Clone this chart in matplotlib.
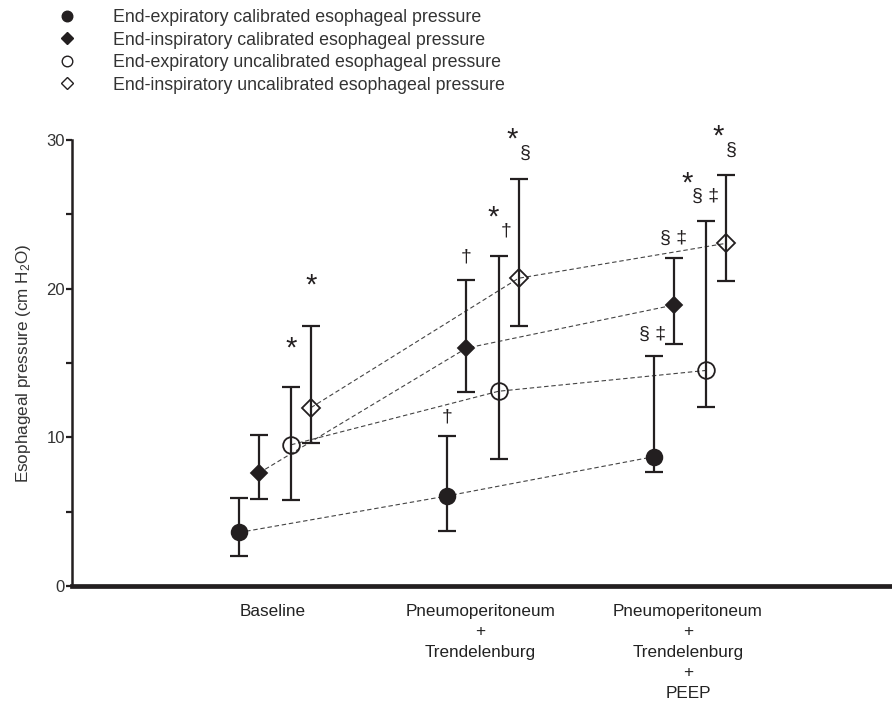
import matplotlib
matplotlib.use("Agg")
from matplotlib import pyplot as plt
from matplotlib.lines import Line2D
from matplotlib.ticker import MultipleLocator

plt.rcParams["font.family"] = ["Liberation Sans", "DejaVu Sans"]
plt.rcParams["mathtext.fontset"] = "custom"
plt.rcParams["mathtext.rm"] = "Liberation Sans"

INK = "#231f20"

conditions = [
    "Baseline",
    "Pneumoperitoneum\n+\nTrendelenburg",
    "Pneumoperitoneum\n+\nTrendelenburg\n+\nPEEP",
]

series_labels = [
    "End-expiratory calibrated esophageal pressure",
    "End-inspiratory calibrated esophageal pressure",
    "End-expiratory uncalibrated esophageal pressure",
    "End-inspiratory uncalibrated esophageal pressure",
]

# centre value, top of bar, bottom of bar (cm H2O), one entry per condition
exp_cal = [3.6, 6.05, 8.7]
exp_cal_hi = [5.9, 10.1, 15.5]
exp_cal_lo = [2.0, 3.7, 7.7]

insp_cal = [7.6, 16.0, 18.9]
insp_cal_hi = [10.15, 20.6, 22.05]
insp_cal_lo = [5.85, 13.05, 16.3]

exp_uncal = [9.5, 13.1, 14.5]
exp_uncal_hi = [13.4, 22.2, 24.55]
exp_uncal_lo = [5.8, 8.55, 12.05]

insp_uncal = [12.0, 20.7, 23.05]
insp_uncal_hi = [17.5, 27.35, 27.65]
insp_uncal_lo = [9.6, 17.5, 20.5]

# significance marks: (condition, shift from condition centre, y, text)
marks = [
    (0, 0.087, 16.0, "*"),
    (0, 0.183, 20.2, "*"),
    (1, -0.161, 11.4, "\u2020"),
    (1, -0.070, 22.1, "\u2020"),
    (1, 0.060, 24.8, "*"),
    (1, 0.123, 23.9, "\u2020"),
    (1, 0.152, 30.0, "*"),
    (1, 0.214, 29.1, "\u00a7"),
    (2, -0.173, 16.9, "\u00a7 \u2021"),
    (2, -0.072, 23.4, "\u00a7 \u2021"),
    (2, -0.005, 27.1, "*"),
    (2, 0.082, 26.2, "\u00a7 \u2021"),
    (2, 0.145, 30.2, "*"),
    (2, 0.207, 29.3, "\u00a7"),
]

offsets = [-0.164, -0.068, 0.087, 0.183]
styles = [
    dict(marker="o", ms=11.3, mfc=INK),
    dict(marker="D", ms=8.0, mfc=INK),
    dict(marker="o", ms=12.0, mfc="none"),
    dict(marker="D", ms=9.0, mfc="none"),
]
legend_ms = [7.6, 6.6, 7.6, 6.6]

series = [
    (exp_cal, exp_cal_hi, exp_cal_lo),
    (insp_cal, insp_cal_hi, insp_cal_lo),
    (exp_uncal, exp_uncal_hi, exp_uncal_lo),
    (insp_uncal, insp_uncal_hi, insp_uncal_lo),
]

fig = plt.figure(figsize=(8.92, 7.13), dpi=100)
ax = fig.add_axes([72 / 892, 127 / 713, 820 / 892, 446 / 713])

for (mid, hi, lo), off, st in zip(series, offsets, styles):
    xs = [i + off for i in range(len(conditions))]
    ax.plot(xs, mid, color="#444444", lw=0.8, dashes=(4, 2.5), zorder=1)
    yerr = [[m - l for m, l in zip(mid, lo)], [h - m for m, h in zip(mid, hi)]]
    ax.errorbar(xs, mid, yerr=yerr, fmt="none", ecolor=INK, elinewidth=1.6,
                capsize=6.5, capthick=1.6, zorder=2)
    ax.plot(xs, mid, linestyle="none", marker=st["marker"], ms=st["ms"],
            mfc=st["mfc"], mec=INK, mew=1.3, zorder=3)

for ci, dx, y, txt in marks:
    size = 21 if txt == "*" else 14
    ax.text(ci + dx, y, txt, ha="center", va="center", fontsize=size,
            color=INK)

ax.set_xlim(-0.969, 2.983)
ax.set_ylim(0, 30)
ax.set_xticks(range(len(conditions)))
ax.set_xticklabels(conditions, fontsize=12.3, color="#222222", linespacing=1.45)
ax.tick_params(axis="x", length=0, pad=13)
ax.yaxis.set_major_locator(MultipleLocator(10))
ax.yaxis.set_minor_locator(MultipleLocator(5))
ax.tick_params(axis="y", which="both", direction="out", length=4, width=1.6,
               labelsize=12, pad=1, colors=INK)
ax.tick_params(axis="y", labelcolor="#333333")

for side in ("top", "right"):
    ax.spines[side].set_visible(False)
ax.spines["left"].set_linewidth(1.8)
ax.spines["bottom"].set_linewidth(3.4)
ax.spines["left"].set_color(INK)
ax.spines["bottom"].set_color(INK)

ax.set_ylabel(r"Esophageal pressure (cm H$\mathregular{_2}$O)", fontsize=12.3,
              color="#333333")
ax.yaxis.set_label_coords(-0.048, 0.5)

handles = [
    Line2D([], [], linestyle="none", marker=st["marker"], ms=lms,
           mfc=st["mfc"], mec=INK, mew=1.0)
    for st, lms in zip(styles, legend_ms)
]
fig.legend(handles, series_labels, loc="upper left",
           bbox_to_anchor=(58 / 892, 1 - 9 / 713), frameon=False,
           fontsize=12.8, handlelength=1.0, handletextpad=2.1,
           labelspacing=0.31, borderpad=0, borderaxespad=0,
           labelcolor="#333333")

fig.savefig("out.png", dpi=100)
